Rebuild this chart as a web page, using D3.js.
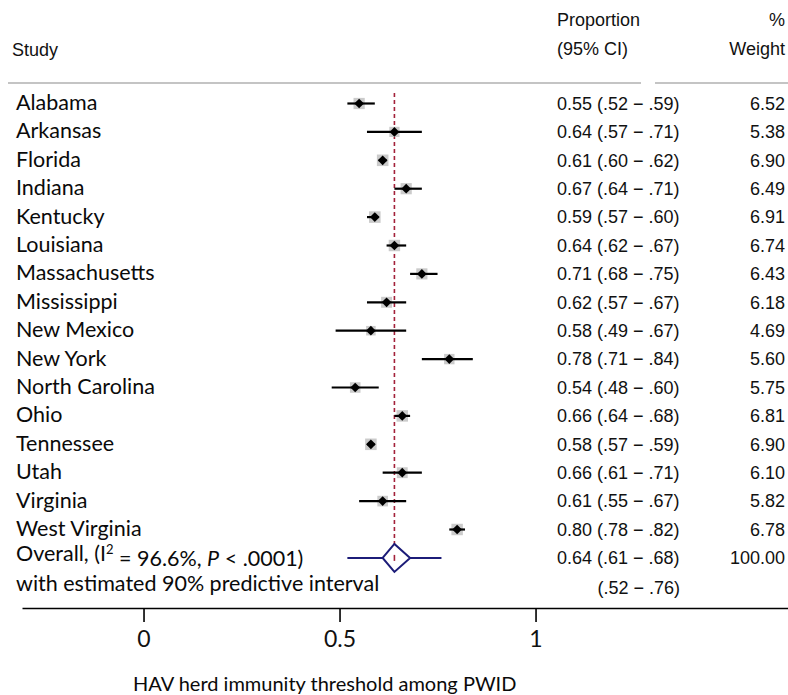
<!DOCTYPE html>
<html lang="en">
<head>
<meta charset="UTF-8">
<title>HAV forest plot</title>
<script src="https://d3js.org/d3.v7.min.js"></script>
<style>
  body { margin: 0; background: #fff; }
  svg { display: block; }
  .lbl { font-family: Lato, "Open Sans", sans-serif; font-size: 21.5px; fill: #0a0a0a; }
  .num { font-family: "Liberation Sans", Arial, sans-serif; font-size: 18px; fill: #111; }
</style>
</head>
<body>
<svg id="chart"></svg>
<script>
// study rows
var studies = ["Alabama", "Arkansas", "Florida", "Indiana", "Kentucky", "Louisiana", "Massachusetts",
  "Mississippi", "New Mexico", "New York", "North Carolina", "Ohio", "Tennessee", "Utah",
  "Virginia", "West Virginia"];
var est   = [0.55, 0.64, 0.61, 0.67, 0.59, 0.64, 0.71, 0.62, 0.58, 0.78, 0.54, 0.66, 0.58, 0.66, 0.61, 0.80];
var lower = [0.52, 0.57, 0.60, 0.64, 0.57, 0.62, 0.68, 0.57, 0.49, 0.71, 0.48, 0.64, 0.57, 0.61, 0.55, 0.78];
var upper = [0.59, 0.71, 0.62, 0.71, 0.60, 0.67, 0.75, 0.67, 0.67, 0.84, 0.60, 0.68, 0.59, 0.71, 0.67, 0.82];
var weights = ["6.52", "5.38", "6.90", "6.49", "6.91", "6.74", "6.43", "6.18", "4.69", "5.60",
  "5.75", "6.81", "6.90", "6.10", "5.82", "6.78"];

// pooled estimate + predictive interval
var overall = {est: 0.64, lo: 0.61, hi: 0.68, piLo: 0.52, piHi: 0.76, weight: "100.00"};
var xTicks = [0, 0.5, 1];

var W = 788, H = 695;
var svg = d3.select("#chart").attr("width", W).attr("height", H);

var x = d3.scaleLinear().domain([-0.31, 1.644]).range([22, 788]);
var y = d3.scaleLinear().domain([0, 17]).range([103.5, 103.5 + 28.4 * 17]);

function fmt(v) { return d3.format(".2f")(v).replace(/^0/, ""); }

// header
svg.append("text").attr("class", "num").attr("x", 12).attr("y", 50)
  .attr("dy", "0.35em").text("Study");
svg.append("text").attr("class", "num").attr("x", 557).attr("y", 20)
  .attr("dy", "0.35em").text("Proportion");
svg.append("text").attr("class", "num").attr("x", 557).attr("y", 49)
  .attr("dy", "0.35em").text("(95% CI)");
svg.append("text").attr("class", "num").attr("x", 785).attr("y", 20)
  .attr("dy", "0.35em").attr("text-anchor", "end").text("%");
svg.append("text").attr("class", "num").attr("x", 785).attr("y", 49)
  .attr("dy", "0.35em").attr("text-anchor", "end").text("Weight");

svg.append("line").attr("x1", 8).attr("x2", 641).attr("y1", 83).attr("y2", 83)
  .attr("stroke", "#c4c4c4").attr("stroke-width", 2);
svg.append("line").attr("x1", 655).attr("x2", 788).attr("y1", 83).attr("y2", 83)
  .attr("stroke", "#c4c4c4").attr("stroke-width", 2);

// pooled reference line
svg.append("line")
  .attr("x1", x(overall.est)).attr("x2", x(overall.est))
  .attr("y1", 93).attr("y2", y(16) + 3)
  .attr("stroke", "#a3213a").attr("stroke-width", 1.6)
  .attr("stroke-dasharray", "4,3");

var rows = studies.map(function(s, i) {
  return {name: s, est: est[i], lo: lower[i], hi: upper[i], w: weights[i], i: i};
});

var g = svg.append("g");

g.selectAll(".wbox").data(rows).enter().append("rect")
  .attr("class", "wbox")
  .attr("x", function(d) { return x(d.est) - 2.2 * Math.sqrt(+d.w); })
  .attr("y", function(d) { return y(d.i) - 2.2 * Math.sqrt(+d.w); })
  .attr("width", function(d) { return 4.4 * Math.sqrt(+d.w); })
  .attr("height", function(d) { return 4.4 * Math.sqrt(+d.w); })
  .attr("fill", "#cbcbcb");

g.selectAll(".ci").data(rows).enter().append("line")
  .attr("class", "ci")
  .attr("x1", function(d) { return x(d.lo); })
  .attr("x2", function(d) { return x(d.hi); })
  .attr("y1", function(d) { return y(d.i); })
  .attr("y2", function(d) { return y(d.i); })
  .attr("stroke", "#000").attr("stroke-width", 2.2);

g.selectAll(".pt").data(rows).enter().append("path")
  .attr("class", "pt")
  .attr("d", d3.symbol().type(d3.symbolDiamond2).size(60))
  .attr("transform", function(d) { return "translate(" + x(d.est) + "," + y(d.i) + ")"; })
  .attr("fill", "#000");

// labels
g.selectAll(".name").data(rows).enter().append("text")
  .attr("class", "lbl")
  .attr("x", 16).attr("y", function(d) { return y(d.i) - 1; })
  .attr("dy", "0.35em")
  .text(function(d) { return d.name; });

g.selectAll(".est").data(rows).enter().append("text")
  .attr("class", "num")
  .attr("x", 557).attr("y", function(d) { return y(d.i); })
  .attr("dy", "0.35em")
  .text(function(d) { return d3.format(".2f")(d.est) + " (" + fmt(d.lo) + " \u2212 " + fmt(d.hi) + ")"; });

g.selectAll(".wt").data(rows).enter().append("text")
  .attr("class", "num")
  .attr("x", 785).attr("y", function(d) { return y(d.i); })
  .attr("dy", "0.35em").attr("text-anchor", "end")
  .text(function(d) { return d.w; });

// overall row
var oy = y(16);
svg.append("line")
  .attr("x1", x(overall.piLo)).attr("x2", x(overall.piHi))
  .attr("y1", oy).attr("y2", oy)
  .attr("stroke", "#1c1c78").attr("stroke-width", 2);
svg.append("path")
  .attr("d", "M" + x(overall.lo) + "," + oy + "L" + x(overall.est) + "," + (oy - 14) +
    "L" + x(overall.hi) + "," + oy + "L" + x(overall.est) + "," + (oy + 14) + "Z")
  .attr("fill", "#fff").attr("stroke", "#1c1c78").attr("stroke-width", 2);
svg.append("line")
  .attr("x1", x(overall.est)).attr("x2", x(overall.est))
  .attr("y1", oy - 3).attr("y2", oy + 3)
  .attr("stroke", "#a3213a").attr("stroke-width", 1.6);

var ot = svg.append("text").attr("class", "lbl").attr("x", 16).attr("y", oy - 4).attr("dy", "0.35em");
ot.append("tspan").text("Overall, (I");
ot.append("tspan").attr("font-size", "13px").attr("dy", "-0.55em").text("2");
ot.append("tspan").attr("dy", "0.55em").text(" = 96.6%, ");
ot.append("tspan").attr("font-style", "italic").text("P");
ot.append("tspan").text(" < .0001)");

svg.append("text").attr("class", "lbl").attr("x", 16).attr("y", y(17) - 3)
  .attr("dy", "0.35em").text("with estimated 90% predictive interval");

svg.append("text").attr("class", "num").attr("x", 557).attr("y", oy)
  .attr("dy", "0.35em")
  .text(d3.format(".2f")(overall.est) + " (" + fmt(overall.lo) + " \u2212 " + fmt(overall.hi) + ")");
svg.append("text").attr("class", "num").attr("x", 785).attr("y", oy)
  .attr("dy", "0.35em").attr("text-anchor", "end").text(overall.weight);
svg.append("text").attr("class", "num").attr("x", 680).attr("y", y(17) + 1)
  .attr("dy", "0.35em").attr("text-anchor", "end")
  .text("(" + fmt(overall.piLo) + " \u2212 " + fmt(overall.piHi) + ")");

// x axis
var axis = svg.append("g").attr("transform", "translate(0,608)")
  .call(d3.axisBottom(x).tickValues(xTicks).tickSize(14).tickSizeOuter(0)
    .tickFormat(function(d) { return d === 0.5 ? "0.5" : d; }));
axis.select(".domain").attr("stroke", "#000").attr("stroke-width", 1.6);
axis.selectAll(".tick line").attr("stroke", "#000").attr("stroke-width", 1.6);
axis.selectAll(".tick text")
  .attr("font-family", "Lato, \"Open Sans\", sans-serif")
  .attr("font-size", "23px").attr("fill", "#111").attr("y", 23);

svg.append("text").attr("class", "lbl").attr("x", 133).attr("y", 684)
  .attr("dy", "0.35em").style("font-size", "20px")
  .text("HAV herd immunity threshold among PWID");
</script>
</body>
</html>
